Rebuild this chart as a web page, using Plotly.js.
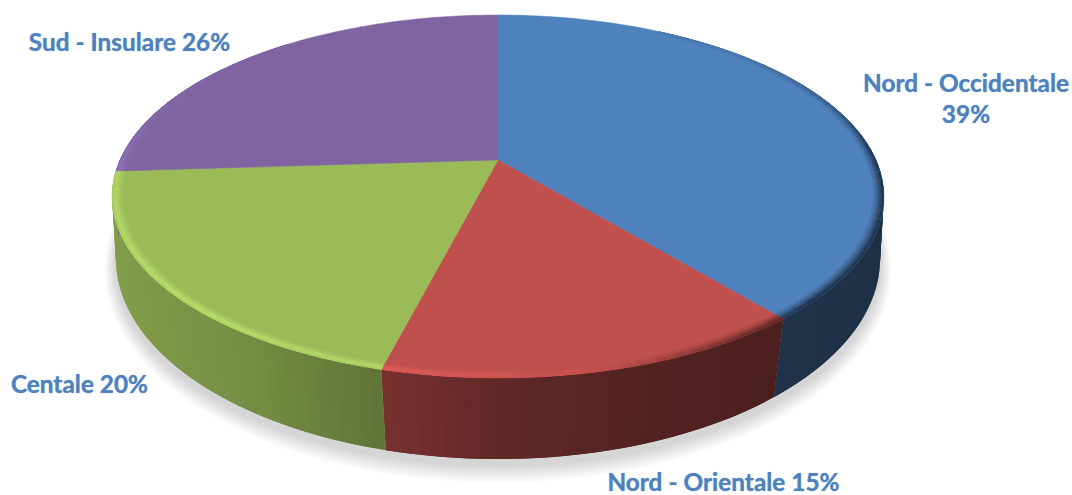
<!DOCTYPE html>
<html>
<head>
<meta charset="utf-8">
<script src="https://cdn.plot.ly/plotly-3.0.1.min.js"></script>
<style>html,body{margin:0;padding:0;background:#fff}</style>
</head>
<body>
<div id="chart" style="width:1072px;height:495px"></div>
<script>
// Regional shares, clockwise from twelve o'clock
const regions = ['Nord - Occidentale', 'Nord - Orientale', 'Centale', 'Sud - Insulare'];
const shares = [39, 15, 20, 26];
const sliceColors = ['#4F81BD', '#C0504D', '#9BBB59', '#8064A2'];
const labelColor = '#4F81BD';

// Perspective of the disc: top face and bottom rim
const topDisc = {cx: 498, r: 378, y0: 160, a: 142, c: -0.201};
const baseDisc = {cx: 498, r: 376.5, y0: 224.5, a: 156.5, c: -0.17};

const rad = d => d * Math.PI / 180;
function project(disc, deg, radius) {
  const u = Math.sin(rad(deg)) * radius, v = -Math.cos(rad(deg)) * radius;
  const w = 1 + disc.c * v;
  return [disc.cx + disc.r * u / w, (disc.y0 + disc.a * v) / w];
}
function hexRgb(h) { return [1, 3, 5].map(i => parseInt(h.substr(i, 2), 16)); }
function rgb(c) { return 'rgb(' + c.map(x => Math.round(Math.min(255, Math.max(0, x)))).join(',') + ')'; }
function lerpTable(table, x) {
  if (x <= table[0][0]) return table[0][1];
  for (let i = 1; i < table.length; i++) {
    if (x <= table[i][0]) {
      const t = (x - table[i - 1][0]) / (table[i][0] - table[i - 1][0]);
      return table[i - 1][1] + t * (table[i][1] - table[i - 1][1]);
    }
  }
  return table[table.length - 1][1];
}

// Slice boundaries in degrees, derived from the shares
const total = shares.reduce((a, b) => a + b, 0);
const bounds = [0];
shares.forEach(s => bounds.push(bounds[bounds.length - 1] + s / total * 360));

const traces = [];
function polygon(pts, color, lineW, opacity) {
  traces.push({
    type: 'scatter', mode: 'lines', x: pts.map(p => p[0]), y: pts.map(p => p[1]),
    fill: 'toself', fillcolor: color, opacity: opacity === undefined ? 1 : opacity,
    line: {color: color, width: lineW === undefined ? 0 : lineW, simplify: false},
    hoverinfo: 'skip', showlegend: false
  });
}
function sliceIndex(d) {
  for (let i = 0; i < shares.length; i++) if (d < bounds[i + 1]) return i;
  return shares.length - 1;
}
function stopsBetween(from, to) {
  const stops = [from, to];
  bounds.forEach(b => { if (b > from && b < to) stops.push(b); });
  return stops.sort((a, b) => a - b);
}

// Soft drop shadow under the disc
for (let k = 14; k >= 1; k--) {
  const disc = {cx: baseDisc.cx, r: baseDisc.r + k * 0.8, y0: baseDisc.y0 + 5 + k * 0.3, a: baseDisc.a + k * 0.75, c: baseDisc.c};
  const pts = [];
  for (let d = 0; d <= 360; d += 3) pts.push(project(disc, d, 1));
  polygon(pts, '#6f6f6f', 0, 0.016);
}

// Side wall: each strip runs on to the end of its slice, so the next one paints over it without a seam
const wallShade = [[115, 0.84], [250, 0.76], [385, 0.62], [500, 0.50], [640, 0.43], [775, 0.39], [885, 0.37]];
function wallStrips() {
  const stops = stopsBetween(75, 285);
  for (let s = 0; s < stops.length - 1; s++) {
    const a0 = stops[s], a1 = stops[s + 1], n = Math.ceil((a1 - a0) / 1.5);
    for (let j = 0; j < n; j++) {
      const d0 = a0 + (a1 - a0) * j / n, d1 = Math.min(a1, a0 + (a1 - a0) * (j + 2) / n), mid = a0 + (a1 - a0) * (j + 0.5) / n;
      const p = [project(topDisc, d0, 1), project(topDisc, d1, 1), project(baseDisc, d1, 1), project(baseDisc, d0, 1)];
      const f = lerpTable(wallShade, project(baseDisc, mid, 1)[0]);
      polygon(p.concat([p[0]]), rgb(hexRgb(sliceColors[sliceIndex(mid)]).map(x => x * f)));
    }
  }
}
wallStrips();

// Top face slices
shares.forEach((s, i) => {
  const pts = [project(topDisc, 0, 0)];
  const n = Math.ceil((bounds[i + 1] - bounds[i]) / 1.5);
  for (let j = 0; j <= n; j++) pts.push(project(topDisc, bounds[i] + (bounds[i + 1] - bounds[i]) * j / n, 1));
  pts.push(pts[0]);
  polygon(pts, sliceColors[i], 0.5);
});

// Bevel along the rim: highlight toward front-left, dark toward the right
const bevelLight = [[45, -0.08], [70, -0.28], [88, -0.58], [135, -0.62], [150, -0.4], [163, -0.1], [172, 0.08],
                    [190, 0.3], [220, 0.42], [260, 0.34], [285, 0.08], [320, 0]];
const bands = [[0.974, 0.2, 0.15], [0.979, 0.45, 0.3], [0.984, 0.75, 0.5], [0.989, 1, 0.75], [0.995, 0.75, 1]];
function bevel() {
  const stops = stopsBetween(30, 320);
  for (let s = 0; s < stops.length - 1; s++) {
    const a0 = stops[s], a1 = stops[s + 1], n = Math.ceil((a1 - a0) / 2.5);
    for (let j = 0; j < n; j++) {
      const d0 = a0 + (a1 - a0) * j / n, d1 = Math.min(a1, a0 + (a1 - a0) * (j + 2) / n), mid = a0 + (a1 - a0) * (j + 0.5) / n;
      const L = lerpTable(bevelLight, mid);
      const base = hexRgb(sliceColors[sliceIndex(mid)]);
      // Inner bands first; each reaches the outer edge and the next one covers it
      bands.forEach(b => {
        const col = L > 0 ? base.map(x => x * (1 + L * b[1] * 0.42)) : base.map(x => x * (1 + L * b[2]));
        const p = [project(topDisc, d0, b[0]), project(topDisc, d1, b[0]), project(topDisc, d1, 1), project(topDisc, d0, 1)];
        polygon(p.concat([p[0]]), rgb(col));
      });
    }
  }
}
bevel();

// Category labels
const labelPos = [[966, 101.5], [723.5, 485], [79.5, 387], [129.5, 45]];
const labelText = regions.map((r, i) => i === 0 ? r + '<br>' + shares[i] + '%' : r + ' ' + shares[i] + '%');
traces.push({
  type: 'scatter', mode: 'text',
  x: labelPos.map(p => p[0]), y: labelPos.map(p => p[1]),
  text: labelText, textposition: 'middle center',
  textfont: {family: 'Lato, Carlito, sans-serif', size: 24.4, color: labelColor, weight: 700,
             shadow: '0 0 1px rgba(79,129,189,0.8)'},
  hoverinfo: 'skip', showlegend: false, cliponaxis: false
});

Plotly.newPlot('chart', traces, {
  width: 1072, height: 495,
  margin: {l: 0, r: 0, t: 0, b: 0},
  paper_bgcolor: '#ffffff', plot_bgcolor: '#ffffff',
  showlegend: false, hovermode: false,
  xaxis: {range: [0, 1072], visible: false, fixedrange: true},
  yaxis: {range: [495, 0], visible: false, fixedrange: true}
}, {staticPlot: true, displayModeBar: false});
</script>
</body>
</html>
